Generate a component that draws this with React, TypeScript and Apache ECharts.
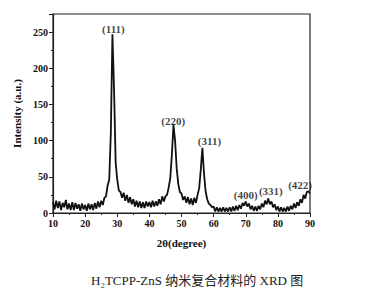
import React, { useEffect, useRef } from "react";
import * as echarts from "echarts";

const twoThetaStart = 10;
const twoThetaStep = 0.5;
const intensity = [
  15, 5, 17, 7, 16, 4, 14, 8, 18, 5,
  13, 4, 15, 4, 14, 6, 12, 3, 13, 5,
  11, 3, 13, 5, 12, 4, 14, 6, 16, 8,
  17, 11, 21, 23, 38, 46, 110, 247, 172, 70,
  46, 31, 29, 21, 28, 17, 25, 14, 22, 12,
  19, 9, 17, 8, 16, 7, 15, 7, 16, 9,
  15, 8, 17, 9, 16, 10, 19, 12, 23, 16,
  23, 25, 35, 48, 80, 122, 100, 62, 40, 29,
  27, 18, 23, 14, 22, 12, 20, 11, 21, 14,
  25, 34, 60, 90, 55, 30, 19, 13, 11, 8,
  9, 2, 8, 2, 7, 2, 8, 2, 7, 2,
  8, 2, 9, 3, 10, 4, 11, 6, 14, 10,
  16, 9, 13, 5, 10, 3, 9, 3, 10, 5,
  13, 8, 17, 12, 20, 12, 16, 8, 12, 4,
  9, 2, 8, 2, 7, 2, 9, 3, 10, 5,
  13, 7, 15, 10, 19, 14, 25, 20, 29, 30,
  27,
];

const peakNames = ["(111)", "(220)", "(311)", "(400)", "(331)", "(422)"];
const peakLabelX = [28.8, 47.4, 58.7, 70.0, 77.8, 86.9];
const peakLabelY = [254, 127, 99, 25, 30, 39];

const xTicks = { min: 10, max: 90, interval: 10 };
const yTicks = { min: 0, max: 275, interval: 50 };

const serif = "'Liberation Serif', 'Times New Roman', serif";

export default function App() {
  const ref = useRef<HTMLDivElement>(null);
  useEffect(() => {
    if (!ref.current) return;
    const chart = echarts.init(ref.current, null, { renderer: "svg" });
    const lineData = intensity.map((v, i) => [twoThetaStart + i * twoThetaStep, v]);
    const labelData = peakNames.map((n, i) => [peakLabelX[i], peakLabelY[i], n]);
    chart.setOption({
      animation: false,
      backgroundColor: "#fff",
      grid: {
        left: 53,
        top: 14,
        right: 60,
        bottom: 83,
        show: true,
        borderColor: "#222",
        borderWidth: 1.2,
      },
      xAxis: {
        type: "value",
        min: xTicks.min,
        max: xTicks.max,
        interval: xTicks.interval,
        name: "2θ(degree)",
        nameLocation: "middle",
        nameGap: 24,
        nameTextStyle: { fontFamily: serif, fontWeight: "bold", fontSize: 11, color: "#111" },
        axisLine: { show: true, lineStyle: { color: "#222", width: 1.2 } },
        axisTick: { show: true, length: 4, lineStyle: { color: "#222" } },
        minorTick: { show: true, splitNumber: 2, length: 2, lineStyle: { color: "#222" } },
        splitLine: { show: false },
        axisLabel: { fontFamily: serif, fontWeight: "bold", fontSize: 10, color: "#111", margin: 5 },
      },
      yAxis: {
        type: "value",
        min: yTicks.min,
        max: yTicks.max,
        interval: yTicks.interval,
        name: "Intensity (a.u.)",
        nameLocation: "middle",
        nameGap: 18,
        nameTextStyle: { fontFamily: serif, fontWeight: "bold", fontSize: 11, color: "#111" },
        axisLine: { show: true, lineStyle: { color: "#222", width: 1.2 } },
        axisTick: { show: true, length: 4, lineStyle: { color: "#222" } },
        minorTick: { show: true, splitNumber: 2, length: 2, lineStyle: { color: "#222" } },
        splitLine: { show: false },
        axisLabel: {
          fontFamily: serif,
          fontWeight: "bold",
          fontSize: 10,
          color: "#111",
          margin: 5,
          showMaxLabel: false,
        },
      },
      series: [
        {
          type: "line",
          data: lineData,
          showSymbol: false,
          lineStyle: { color: "#111", width: 1.8 },
          z: 3,
        },
        {
          type: "scatter",
          data: labelData,
          symbolSize: 0,
          label: {
            show: true,
            position: "inside",
            formatter: (p: any) => p.data[2],
            fontFamily: serif,
            fontWeight: "bold",
            fontSize: 11,
            color: "#111",
          },
          z: 4,
        },
      ],
      graphic: [
        {
          type: "text",
          left: 91,
          top: 274,
          style: {
            text: "H₂TCPP-ZnS 纳米复合材料的 XRD 图",
            fontFamily: "'Liberation Serif', 'Noto Sans CJK SC', serif",
            fontSize: 13,
            fill: "#222",
          },
        },
      ],
    });
    return () => chart.dispose();
  }, []);
  return (
    <div
      ref={ref}
      style={{ position: "fixed", left: 0, top: 0, width: 370, height: 296, background: "#fff" }}
    />
  );
}
